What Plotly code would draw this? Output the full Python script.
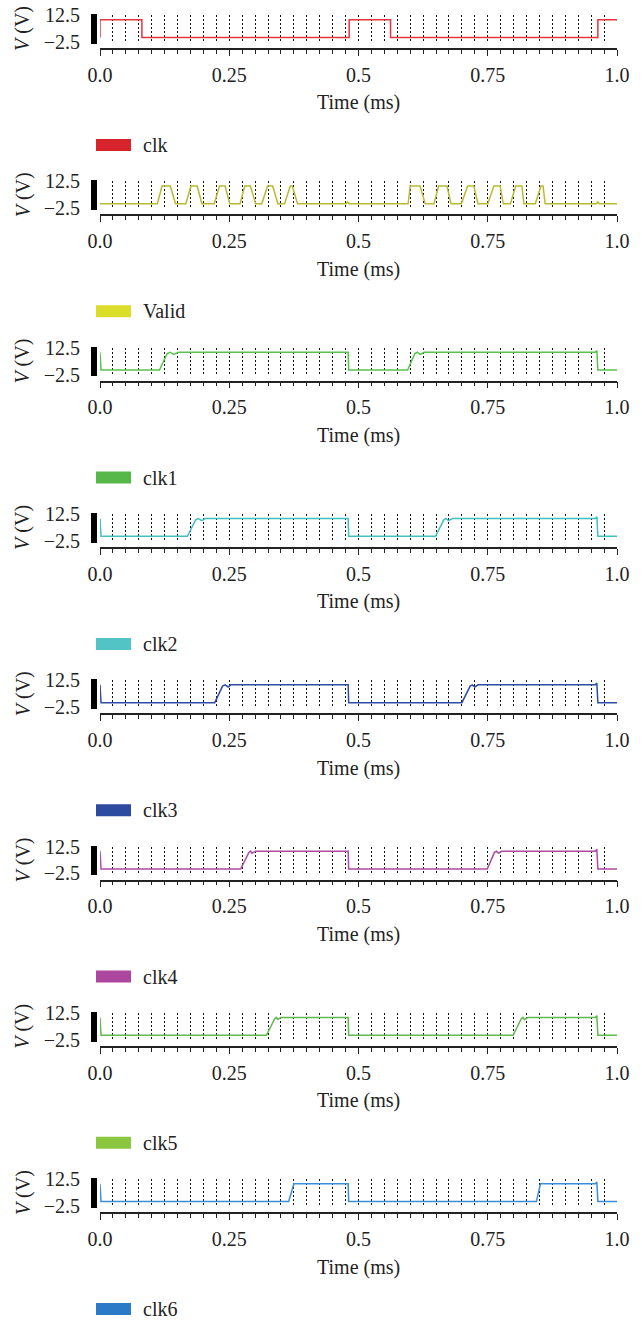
import plotly.graph_objects as go

W, H = 642, 1322

# ---------------- data (time in ms, voltage in V) ----------------
names = ["clk", "Valid", "clk1", "clk2", "clk3", "clk4", "clk5", "clk6"]

clk_t = [0, 0, 0.081, 0.081, 0.482, 0.482, 0.562, 0.562, 0.963, 0.963, 1.0]
clk_v = [0, 10, 10, 0, 0, 10, 10, 0, 0, 10, 10]

valid_t = [0, 0.111, 0.120, 0.136, 0.146, 0.166, 0.176, 0.188, 0.197,
           0.221, 0.231, 0.242, 0.251, 0.271, 0.280, 0.291, 0.301,
           0.313, 0.324, 0.334, 0.344, 0.357, 0.368, 0.372, 0.382,
           0.476, 0.479, 0.482,
           0.596, 0.600, 0.619, 0.629, 0.646, 0.655, 0.671, 0.679,
           0.699, 0.711, 0.723, 0.731, 0.750, 0.762, 0.774, 0.780,
           0.794, 0.804, 0.816, 0.820, 0.842, 0.853, 0.857, 0.861,
           0.960, 0.963, 0.966, 1.0]
valid_v = [0, 0, 10, 10, 0, 0, 10, 10, 0,
           0, 10, 10, 0, 0, 10, 10, 0,
           0, 10, 10, 0, 0, 10, 10, 0,
           0, 1, 0,
           0, 10, 10, 0, 0, 10, 10, 0,
           0, 10, 10, 0, 0, 10, 10, 0,
           0, 10, 10, 0, 0, 10, 10, 0,
           0, 1, 0, 0]

clk1_t = [0, 0.002, 0.115, 0.130, 0.136, 0.142, 0.152, 0.480, 0.481,
          0.595, 0.609, 0.614, 0.619, 0.627, 0.958, 0.961, 0.963, 1.0]
clk1_v = [10, 0, 0, 9.3, 10, 8.8, 10, 10, 0,
          0, 9.3, 10, 8.8, 10, 10, 11, 0, 0]

clk2_t = [0, 0.002, 0.169, 0.185, 0.190, 0.197, 0.203, 0.480, 0.481,
          0.649, 0.665, 0.669, 0.674, 0.682, 0.958, 0.961, 0.963, 1.0]
clk2_v = [10, 0, 0, 9.3, 10, 8.8, 10, 10, 0,
          0, 9.3, 10, 8.8, 10, 10, 11, 0, 0]

clk3_t = [0, 0.002, 0.222, 0.237, 0.242, 0.248, 0.253, 0.480, 0.481,
          0.700, 0.716, 0.720, 0.725, 0.731, 0.958, 0.961, 0.963, 1.0]
clk3_v = [10, 0, 0, 9.3, 10, 8.8, 10, 10, 0,
          0, 9.3, 10, 8.8, 10, 10, 11, 0, 0]

clk4_t = [0, 0.002, 0.272, 0.288, 0.291, 0.294, 0.301, 0.480, 0.481,
          0.749, 0.763, 0.767, 0.771, 0.777, 0.958, 0.961, 0.963, 1.0]
clk4_v = [10, 0, 0, 9.3, 10, 8.8, 10, 10, 0,
          0, 9.3, 10, 8.8, 10, 10, 11, 0, 0]

clk5_t = [0, 0.002, 0.322, 0.338, 0.341, 0.344, 0.350, 0.480, 0.481,
          0.799, 0.815, 0.818, 0.821, 0.828, 0.958, 0.961, 0.963, 1.0]
clk5_v = [10, 0, 0, 9.3, 10, 8.8, 10, 10, 0,
          0, 9.3, 10, 8.8, 10, 10, 11, 0, 0]

clk6_t = [0, 0.002, 0.365, 0.375, 0.480, 0.481,
          0.844, 0.852, 0.958, 0.961, 0.963, 1.0]
clk6_v = [10, 0, 0, 10, 10, 0,
          0, 10, 10, 11, 0, 0]

series_t = [clk_t, valid_t, clk1_t, clk2_t, clk3_t, clk4_t, clk5_t, clk6_t]
series_v = [clk_v, valid_v, clk1_v, clk2_v, clk3_v, clk4_v, clk5_v, clk6_v]

x_tickvals = [0, 0.25, 0.5, 0.75, 1.0]
x_ticktext = ["0.0", "0.25", "0.5", "0.75", "1.0"]
y_tickvals = [-2.5, 12.5]
y_ticktext = ["\u22122.5", "12.5"]

line_colors = ["#e8343e", "#b9b934", "#58c24c", "#42bfc0",
               "#2d4ca6", "#b04aa4", "#5fb94c", "#3b8fd8"]
swatch_colors = ["#d7232b", "#dcdc2a", "#57b84a", "#52c4c6",
                 "#2b4aa0", "#ad469e", "#8bc63f", "#2a7ac7"]

# ---------------- layout geometry (pixels) ----------------
SPACING = 166.3
PLOT_L, PLOT_R = 100, 617
FONT = "Liberation Serif"
FS = 20
GRID_DASH = "2px,2px"


def py(px):
    return 1 - px / H


def pxx(px):
    return px / W


fig = go.Figure()
shapes = []
annotations = []
layout = {}

for k, name in enumerate(names):
    o = k * SPACING
    idx = "" if k == 0 else str(k + 1)
    fig.add_trace(go.Scatter(
        x=series_t[k], y=series_v[k], mode="lines",
        line=dict(color=line_colors[k], width=1.5),
        xaxis="x" + idx, yaxis="y" + idx, showlegend=False, hoverinfo="skip"))

    layout["xaxis" + idx] = dict(
        domain=[pxx(PLOT_L), pxx(PLOT_R)], range=[0, 1],
        anchor="free", position=py(49 + o), automargin=False,
        tickmode="array", tickvals=x_tickvals, ticktext=x_ticktext,
        ticks="outside", ticklen=6, tickwidth=1.3, tickcolor="#222",
        showline=True, linecolor="#222", linewidth=1.5,
        showgrid=True, gridcolor="#111", griddash=GRID_DASH, gridwidth=1,
        zeroline=False,
        minor=dict(tickmode="linear", tick0=0, dtick=0.025, ticks="outside",
                   ticklen=4, tickwidth=1.2, tickcolor="#222",
                   showgrid=True, gridcolor="#111", griddash=GRID_DASH,
                   gridwidth=1),
        tickfont=dict(family=FONT, size=FS, color="#222"),
        ticklabelstandoff=2,
        fixedrange=True,
    )
    layout["yaxis" + idx] = dict(
        domain=[py(43 + o), py(15 + o)], range=[-3.1, 12.6],
        anchor="free", position=pxx(97), automargin=False,
        tickmode="array", tickvals=y_tickvals, ticktext=y_ticktext,
        ticks="outside", ticklen=6, tickwidth=1.5, tickcolor="#000",
        showline=False, showgrid=False, zeroline=False,
        minor=dict(tickmode="linear", tick0=-3, dtick=0.25, ticks="outside",
                   ticklen=6, tickwidth=1.5, tickcolor="#000", showgrid=False),
        tickfont=dict(family=FONT, size=FS, color="#222"),
        ticklabelstandoff=7,
        fixedrange=True,
    )

    # axis titles
    annotations.append(dict(
        text="<i>V</i> (V)", x=pxx(23), y=py(28 + o), xref="paper", yref="paper",
        textangle=-90, showarrow=False, xanchor="center", yanchor="middle",
        font=dict(family=FONT, size=FS, color="#222")))
    annotations.append(dict(
        text="Time (ms)", x=pxx((PLOT_L + PLOT_R) / 2), y=py(103 + o),
        xref="paper", yref="paper", showarrow=False,
        xanchor="center", yanchor="middle",
        font=dict(family=FONT, size=FS, color="#222")))
    # legend
    shapes.append(dict(
        type="rect", xref="paper", yref="paper",
        x0=pxx(96), x1=pxx(131), y0=py(151 + o), y1=py(139 + o),
        fillcolor=swatch_colors[k], line=dict(width=0)))
    annotations.append(dict(
        text=name, x=pxx(142), y=py(145 + o), xref="paper", yref="paper",
        showarrow=False, xanchor="left", yanchor="middle", borderpad=0,
        font=dict(family=FONT, size=FS, color="#222")))

fig.update_layout(
    width=W, height=H, margin=dict(l=0, r=0, t=0, b=0, autoexpand=False),
    paper_bgcolor="white", plot_bgcolor="white",
    shapes=shapes, annotations=annotations, showlegend=False,
    **layout)

fig.write_html("out.html", config={"displayModeBar": False},
               post_script="document.body.style.margin='0px';"
                           "document.body.style.overflow='hidden';")
